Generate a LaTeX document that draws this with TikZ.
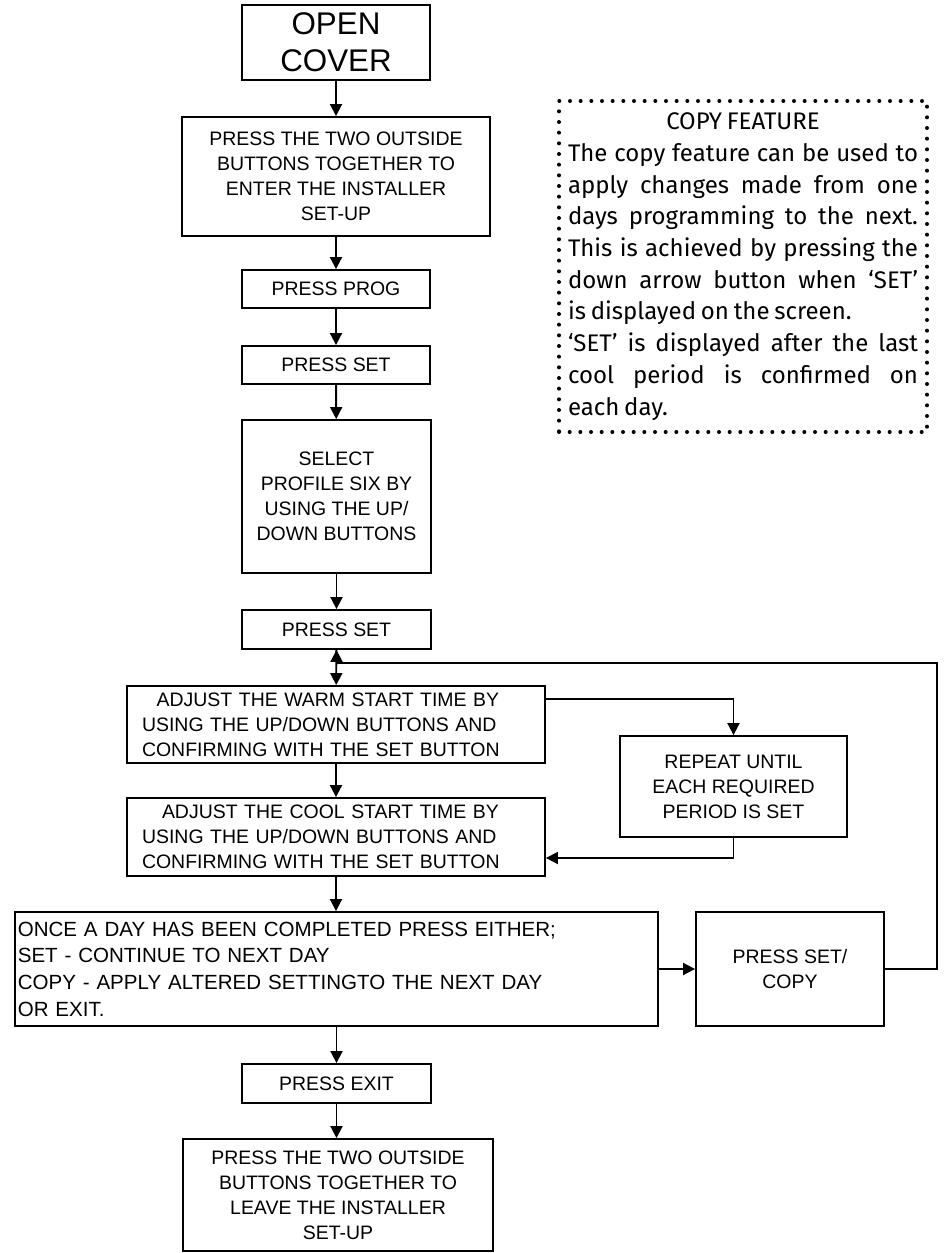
\documentclass[tikz,border=0pt]{standalone}
\usepackage{fontspec}
\setmainfont{Liberation Sans}
\newfontfamily\notefont{Fira Sans}
\usetikzlibrary{arrows.meta}

\begin{document}
\begin{tikzpicture}[x=0.75pt,y=-0.75pt,
    box/.style 2 args={draw, line width=1.4pt, inner sep=0pt, align=center,
        minimum width=#1*0.75pt, minimum height=#2*0.75pt,
        font=\fontsize{14.6pt}{18.75pt}\selectfont},
    arr/.style={line width=1.4pt, -{Triangle[width=9pt,length=9pt]}},
    note/.style={draw, line width=3pt, line cap=round, dash pattern=on 0pt off 8pt,
        minimum width=276pt, minimum height=248.25pt, inner sep=0pt,
        text width=262.5pt, align=justify,
        font=\notefont\fontsize{18pt}{23.8pt}\selectfont}]
    \useasboundingbox (0,0) rectangle (943,1253);
    % main column
    \node[box={188}{75}, font=\fontsize{23.5pt}{28pt}\selectfont] (open) at (336,42.5) {OPEN\\COVER};
    \node[box={308}{119}] (enter) at (336,176.5) {PRESS THE TWO OUTSIDE\\BUTTONS TOGETHER TO\\ENTER THE INSTALLER\\SET-UP};
    \node[box={188}{38}] (prog) at (336,289) {PRESS PROG};
    \node[box={188}{38}] (setone) at (336,365) {PRESS SET};
    \node[box={189}{153}] (select) at (336.5,496.5) {SELECT\\PROFILE SIX BY\\USING THE UP/\\DOWN BUTTONS};
    \node[box={189}{39}] (settwo) at (336.5,629.5) {PRESS SET};
    \node[box={418}{77}, align=left, text width=291pt] (warm) at (336,724.5) {\hspace*{11pt}ADJUST THE WARM START TIME BY\\USING THE UP/DOWN BUTTONS AND\\CONFIRMING WITH THE SET BUTTON};
    \node[box={418}{78}, align=left, text width=291pt] (cool) at (336,837) {\hspace*{15pt}ADJUST THE COOL START TIME BY\\USING THE UP/DOWN BUTTONS AND\\CONFIRMING WITH THE SET BUTTON};
    \node[box={643}{114}, align=left, text width=478pt, font=\fontsize{15.4pt}{20pt}\selectfont] (once) at (336.5,969) {ONCE A DAY HAS BEEN COMPLETED PRESS EITHER;\\SET - CONTINUE TO NEXT DAY\\COPY - APPLY ALTERED SETTINGTO THE NEXT DAY\\OR EXIT.};
    \node[box={189}{39}] (exit) at (336.5,1083.5) {PRESS EXIT};
    \node[box={310}{112}] (leave) at (338,1195) {PRESS THE TWO OUTSIDE\\BUTTONS TOGETHER TO\\LEAVE THE INSTALLER\\SET-UP};
    % right side
    \node[box={227}{101}] (repeat) at (733.5,786.5) {REPEAT UNTIL\\EACH REQUIRED\\PERIOD IS SET};
    \node[box={188}{114}] (setcopy) at (790,969) {PRESS SET/\\COPY};
    \node[note] (feature) at (743,266.5) {\spaceskip=0.2em plus 0.6em minus 0.06em\relax
        \hfill COPY FEATURE\hfill\null\\
        The copy feature can be used to\linebreak
        apply changes made from one\linebreak
        days programming to the next.\linebreak
        This is achieved by pressing the\linebreak
        down arrow button when ‘SET’\linebreak
        is displayed on the screen.\\
        ‘SET’ is displayed after the last\linebreak
        cool period is confirmed on\linebreak
        each day.};
    \coordinate (loopr) at (937,663);
    \coordinate (loopj) at (336.5,663);

    \draw[arr] (open) -- (enter);
    \draw[arr] (enter) -- (prog);
    \draw[arr] (prog) -- (setone);
    \draw[arr] (setone) -- (select);
    \draw[arr] (select) -- (settwo);
    \draw[arr] (settwo) -- (warm);
    \draw[arr] (warm) -- (cool);
    \draw[arr] (cool.south) -- (cool.south |- once.north);
    \draw[arr] (once.south) -- (once.south |- exit.north);
    \draw[arr] (exit.south) -- (exit.south |- leave.north);
    \draw[arr] ([yshift=-10.5pt]warm.north east) -| (repeat.north);
    \draw[arr] (repeat.south) |- ([yshift=-15.75pt]cool.east);
    \draw[arr] (once) -- (setcopy);
    \draw[arr] (setcopy.east) -| (loopr) -- (loopj) -- (settwo.south);
\end{tikzpicture}
\end{document}
